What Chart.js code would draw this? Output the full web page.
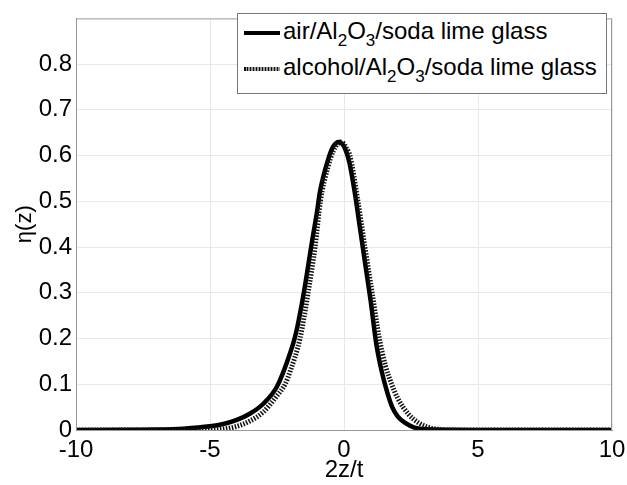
<!DOCTYPE html>
<html>
<head>
<meta charset="utf-8">
<script src="https://cdn.jsdelivr.net/npm/chart.js@4/dist/chart.umd.min.js"></script>
<style>
  body { margin: 0; background: #fff; }
  #wrap { position: relative; width: 627px; height: 485px; }
  #leyenda {
    position: absolute; left: 237px; top: 13px; width: 370px; height: 81px;
    background: #fff; border: 1px solid #777; box-sizing: border-box;
    font-family: 'Liberation Sans', Arial, sans-serif; font-size: 24px; color: #000;
  }
  .fila { position: absolute; left: 6px; height: 28px; line-height: 28px; white-space: nowrap; }
  .muestra { display: inline-block; width: 36px; height: 4px; vertical-align: middle; margin-right: 3px; }
  .fila sub { font-size: 17px; position: relative; top: 7px; vertical-align: baseline; line-height: 0; }
</style>
</head>
<body>
<div id="wrap">
  <canvas id="etaChart" width="627" height="485"></canvas>
  <div id="leyenda">
    <div class="fila" style="top:3px"><span class="muestra" style="background:#000"></span>air/Al<sub>2</sub>O<sub>3</sub>/soda lime glass</div>
    <div class="fila" style="top:39px"><span class="muestra" style="background:repeating-linear-gradient(90deg,#111 0 1.5px,#999 1.5px 3px)"></span>alcohol/Al<sub>2</sub>O<sub>3</sub>/soda lime glass</div>
  </div>
</div>
<script>
// eta(z) vs 2z/t
const airX = [-10, -8, -7, -6, -5, -4.5, -4, -3.5, -3, -2.5, -2, -1.8, -1.5, -1.2, -1, -0.9, -0.6, -0.4, -0.2, 0, 0.2, 0.4, 0.6, 0.8, 1.0, 1.2, 1.4, 1.6, 1.8, 2.0, 2.3, 2.6, 3, 4, 5, 10];
const airY = [0, 0.0005, 0.001, 0.003, 0.008, 0.013, 0.022, 0.036, 0.058, 0.095, 0.17, 0.21, 0.30, 0.41, 0.48, 0.52, 0.59, 0.62, 0.63, 0.62, 0.585, 0.52, 0.44, 0.36, 0.28, 0.19, 0.13, 0.085, 0.05, 0.03, 0.015, 0.006, 0.002, 0.0003, 0, 0];

const alcX = [-10, -5, -4.5, -4, -3.5, -3, -2.5, -2.2, -2, -1.64, -1.34, -1.08, -0.88, -0.6, -0.4, -0.1, 0.1, 0.22, 0.52, 0.78, 1.05, 1.32, 1.55, 1.78, 2.0, 2.4, 2.8, 3.2, 3.6, 4, 10];
const alcY = [0, 0, 0.002, 0.008, 0.02, 0.04, 0.075, 0.10, 0.13, 0.2, 0.3, 0.4, 0.5, 0.575, 0.61, 0.63, 0.615, 0.6, 0.5, 0.4, 0.3, 0.2, 0.14, 0.1, 0.07, 0.035, 0.015, 0.005, 0.001, 0, 0];

const xTicks = [-10, -5, 0, 5, 10];
const yTicks = [0, 0.1, 0.2, 0.3, 0.4, 0.5, 0.6, 0.7, 0.8];

const pts = (xs, ys) => xs.map((x, i) => ({ x: x, y: ys[i] }));
const fuente = { family: "'Liberation Sans', Arial, sans-serif", size: 24 };

// marco gris alrededor del area
const marco = {
  id: 'marco',
  afterDatasetsDraw(chart) {
    const a = chart.chartArea, c = chart.ctx;
    c.save();
    c.strokeStyle = '#999';
    c.lineWidth = 1;
    c.strokeRect(a.left + 0.5, a.top + 0.5, a.right - a.left - 1, a.bottom - a.top);
    c.restore();
  }
};

const ctx = document.getElementById('etaChart').getContext('2d');
new Chart(ctx, {
  type: 'line',
  data: {
    datasets: [{
      label: 'alcohol/Al2O3/soda lime glass',
      data: pts(alcX, alcY),
      borderColor: '#111',
      borderWidth: 5,
      borderDash: [1.5, 1.5],
      pointRadius: 0,
      cubicInterpolationMode: 'monotone',
      order: 0
    }, {
      label: 'air/Al2O3/soda lime glass',
      data: pts(airX, airY),
      borderColor: '#000',
      borderWidth: 4.5,
      pointRadius: 0,
      cubicInterpolationMode: 'monotone',
      order: 1
    }]
  },
  options: {
    responsive: false,
    animation: false,
    layout: { padding: { top: 7, right: 0, left: 0, bottom: 0 } },
    plugins: { legend: { display: false }, tooltip: { enabled: false } },
    scales: {
      x: {
        type: 'linear', min: -10, max: 10,
        afterFit: s => { s.height = 55; s.paddingRight = 15; },
        afterBuildTicks: s => { s.ticks = xTicks.map(v => ({ value: v })); },
        grid: { color: '#e8e8e8', drawTicks: false },
        border: { color: '#999' },
        ticks: { color: '#000', font: fuente, padding: 6, maxRotation: 0 },
        title: { display: true, text: '2z/t', color: '#000', font: fuente, padding: 0 }
      },
      y: {
        min: 0, max: 0.9,
        afterFit: s => { s.width = 76; },
        afterBuildTicks: s => { s.ticks = yTicks.map(v => ({ value: v })); },
        grid: { color: '#e8e8e8', drawTicks: false },
        border: { color: '#999' },
        ticks: { color: '#000', font: fuente, padding: 4, callback: v => v === 0 ? '0' : v.toFixed(1) },
        title: { display: true, text: 'η(z)', color: '#000', font: { family: fuente.family, size: 22 }, padding: { top: 12 } }
      }
    }
  },
  plugins: [marco]
});
</script>
</body>
</html>
